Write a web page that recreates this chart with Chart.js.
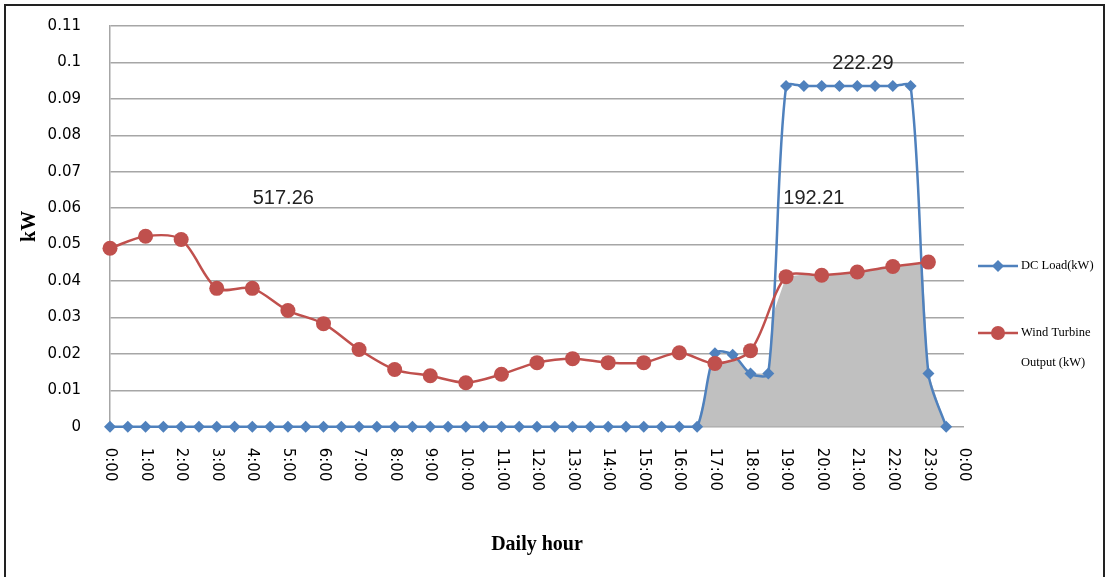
<!DOCTYPE html>
<html>
<head>
<meta charset="utf-8">
<script src="https://cdn.jsdelivr.net/npm/chart.js@4"></script>
<style>
html, body { margin: 0; padding: 0; background: #fff; }
#wrap { position: relative; width: 1105px; height: 577px; overflow: hidden; }
#frame { position: absolute; left: 4px; top: 4px; width: 1097px; height: 600px; border: 2px solid #222; pointer-events: none; }
</style>
</head>
<body>
<div id="wrap">
<canvas id="myChart" width="1105" height="577"></canvas>
<div id="frame"></div>
</div>
<script>
// DC load (kW), one value every half hour from 0:00 to 23:30
var dcLoad = [0, 0, 0, 0, 0, 0, 0, 0, 0, 0,
    0, 0, 0, 0, 0, 0, 0, 0, 0, 0,
    0, 0, 0, 0, 0, 0, 0, 0, 0, 0,
    0, 0, 0, 0,
    0.0202, 0.0198, 0.0146, 0.0146,
    0.0935, 0.0935, 0.0935, 0.0935, 0.0935, 0.0935, 0.0935, 0.0935,
    0.0146, 0];

// wind turbine output (kW), one value every hour from 0:00 to 23:00
var windOutput = [0.049, 0.0523, 0.0514, 0.038, 0.038, 0.0319, 0.0283, 0.0212,
    0.0157, 0.014, 0.0121, 0.0144, 0.0176, 0.0187, 0.0176, 0.0176,
    0.0203, 0.0174, 0.0209, 0.0412, 0.0416, 0.0425, 0.044, 0.0452];

// grey area: load covered by the turbine (hour, kW)
var usedHours = [16.5, 16.93, 17, 17.5, 17.62, 18, 18.5, 18.6, 19, 19.5, 20, 20.5, 21, 21.5, 22, 22.5, 22.83, 23, 23.5];
var usedKw = [0, 0.0176, 0.0174, 0.018, 0.0185, 0.0146, 0.0146, 0.03, 0.0412, 0.0418, 0.0416, 0.042, 0.0425, 0.0432, 0.044, 0.0446, 0.045, 0.0146, 0];

// numbers written on the plot
var noteTexts = ['517.26', '222.29', '192.21'];
var noteHours = [4.87, 21.16, 19.78];
var noteKw = [0.0627, 0.0996, 0.0627];

var seriesNames = ['DC Load(kW)', 'Wind Turbine|Output (kW)'];
var blue = '#4f81bd', red = '#c0504d';

var loadPts = [];
for (var i = 0; i < dcLoad.length; i++) loadPts.push({ x: i / 2, y: dcLoad[i] });
var windPts = [];
for (var i = 0; i < windOutput.length; i++) windPts.push({ x: i, y: windOutput[i] });
var usedPts = [];
for (var i = 0; i < usedHours.length; i++) usedPts.push({ x: usedHours[i], y: usedKw[i] });

var tickFont = '15px "DejaVu Sans"';

// x labels read top-to-bottom, so they are drawn here
var extras = {
    id: 'extras',
    afterDraw: function (chart) {
        var ctx = chart.ctx, xs = chart.scales.x, ys = chart.scales.y;
        ctx.save();
        ctx.fillStyle = '#000';
        ctx.font = tickFont;
        ctx.textAlign = 'left';
        ctx.textBaseline = 'middle';
        xs.ticks.forEach(function (t) {
            var px = xs.getPixelForValue(t.value);
            ctx.save();
            ctx.translate(px, xs.top + 21);
            ctx.rotate(Math.PI / 2);
            ctx.fillText((t.value % 24) + ':00', 0, 0);
            ctx.restore();
        });

        ctx.font = '20px "Liberation Sans"';
        ctx.fillStyle = '#222';
        ctx.textAlign = 'center';
        for (var i = 0; i < noteTexts.length; i++) {
            ctx.fillText(noteTexts[i], xs.getPixelForValue(noteHours[i]), ys.getPixelForValue(noteKw[i]));
        }

        // legend
        var lx = 978, rows = [266, 333];
        var colors = [blue, red];
        ctx.font = '12.5px "Liberation Serif"';
        ctx.textAlign = 'left';
        ctx.fillStyle = '#000';
        for (var k = 0; k < 2; k++) {
            ctx.strokeStyle = colors[k];
            ctx.lineWidth = 2.5;
            ctx.beginPath();
            ctx.moveTo(lx, rows[k]);
            ctx.lineTo(lx + 40, rows[k]);
            ctx.stroke();
            ctx.fillStyle = colors[k];
            ctx.beginPath();
            if (k === 0) {
                ctx.moveTo(lx + 20, rows[k] - 6);
                ctx.lineTo(lx + 26, rows[k]);
                ctx.lineTo(lx + 20, rows[k] + 6);
                ctx.lineTo(lx + 14, rows[k]);
            } else {
                ctx.arc(lx + 20, rows[k], 7, 0, Math.PI * 2);
            }
            ctx.fill();
            ctx.fillStyle = '#000';
            var parts = seriesNames[k].split('|');
            for (var p = 0; p < parts.length; p++) ctx.fillText(parts[p], lx + 43, rows[k] + p * 30);
        }
        ctx.restore();
    }
};

var ctx = document.getElementById('myChart').getContext('2d');
var myChart = new Chart(ctx, {
    type: 'line',
    data: {
        datasets: [{
            label: seriesNames[0],
            data: loadPts,
            borderColor: blue,
            backgroundColor: blue,
            borderWidth: 2.5,
            pointStyle: 'rectRot',
            pointRadius: 6,
            pointBorderWidth: 0,
            tension: 0.3,
            clip: false,
            order: 1
        }, {
            label: seriesNames[1],
            data: windPts,
            borderColor: red,
            backgroundColor: red,
            borderWidth: 2.5,
            pointStyle: 'circle',
            pointRadius: 7.5,
            pointBorderWidth: 0,
            tension: 0.3,
            clip: false,
            order: 0
        }, {
            label: 'used',
            data: usedPts,
            borderWidth: 0,
            pointRadius: 0,
            backgroundColor: '#c0c0c0',
            fill: 'origin',
            tension: 0,
            order: 2
        }]
    },
    options: {
        responsive: false,
        animation: false,
        devicePixelRatio: 1,
        layout: { padding: { left: 0, right: 141, top: 26, bottom: 20 } },
        plugins: { legend: { display: false }, tooltip: { enabled: false } },
        scales: {
            x: {
                type: 'linear',
                min: 0,
                max: 24,
                grid: { display: false },
                border: { display: false },
                ticks: {
                    stepSize: 1,
                    autoSkip: false,
                    maxRotation: 90,
                    minRotation: 90,
                    padding: 20.5,
                    color: 'rgba(0,0,0,0)',
                    font: { family: 'DejaVu Sans', size: 15 },
                    callback: function (v) { return (v % 24) + ':00'; }
                },
                title: {
                    display: true,
                    text: 'Daily hour',
                    color: '#000',
                    font: { family: 'Liberation Serif', size: 20, weight: 'bold' },
                    padding: { top: 14, bottom: 0 }
                }
            },
            y: {
                min: 0,
                max: 0.11,
                afterFit: function (scale) {
                    scale.width = 110;
                    scale.paddingTop = 10;
                    scale.paddingBottom = 10;
                },
                grid: { color: '#a6a6a6', lineWidth: 1.5, drawTicks: false },
                border: { display: true, color: '#a6a6a6', width: 1.5 },
                ticks: {
                    stepSize: 0.01,
                    padding: 29,
                    color: '#000',
                    font: { family: 'DejaVu Sans', size: 15 },
                    callback: function (v) { return String(parseFloat(v.toFixed(2))); }
                },
                title: {
                    display: true,
                    text: 'kW',
                    color: '#000',
                    font: { family: 'Liberation Serif', size: 20, weight: 'bold' },
                    padding: { top: 18, bottom: 0 }
                }
            }
        }
    },
    plugins: [extras]
});
</script>
</body>
</html>
